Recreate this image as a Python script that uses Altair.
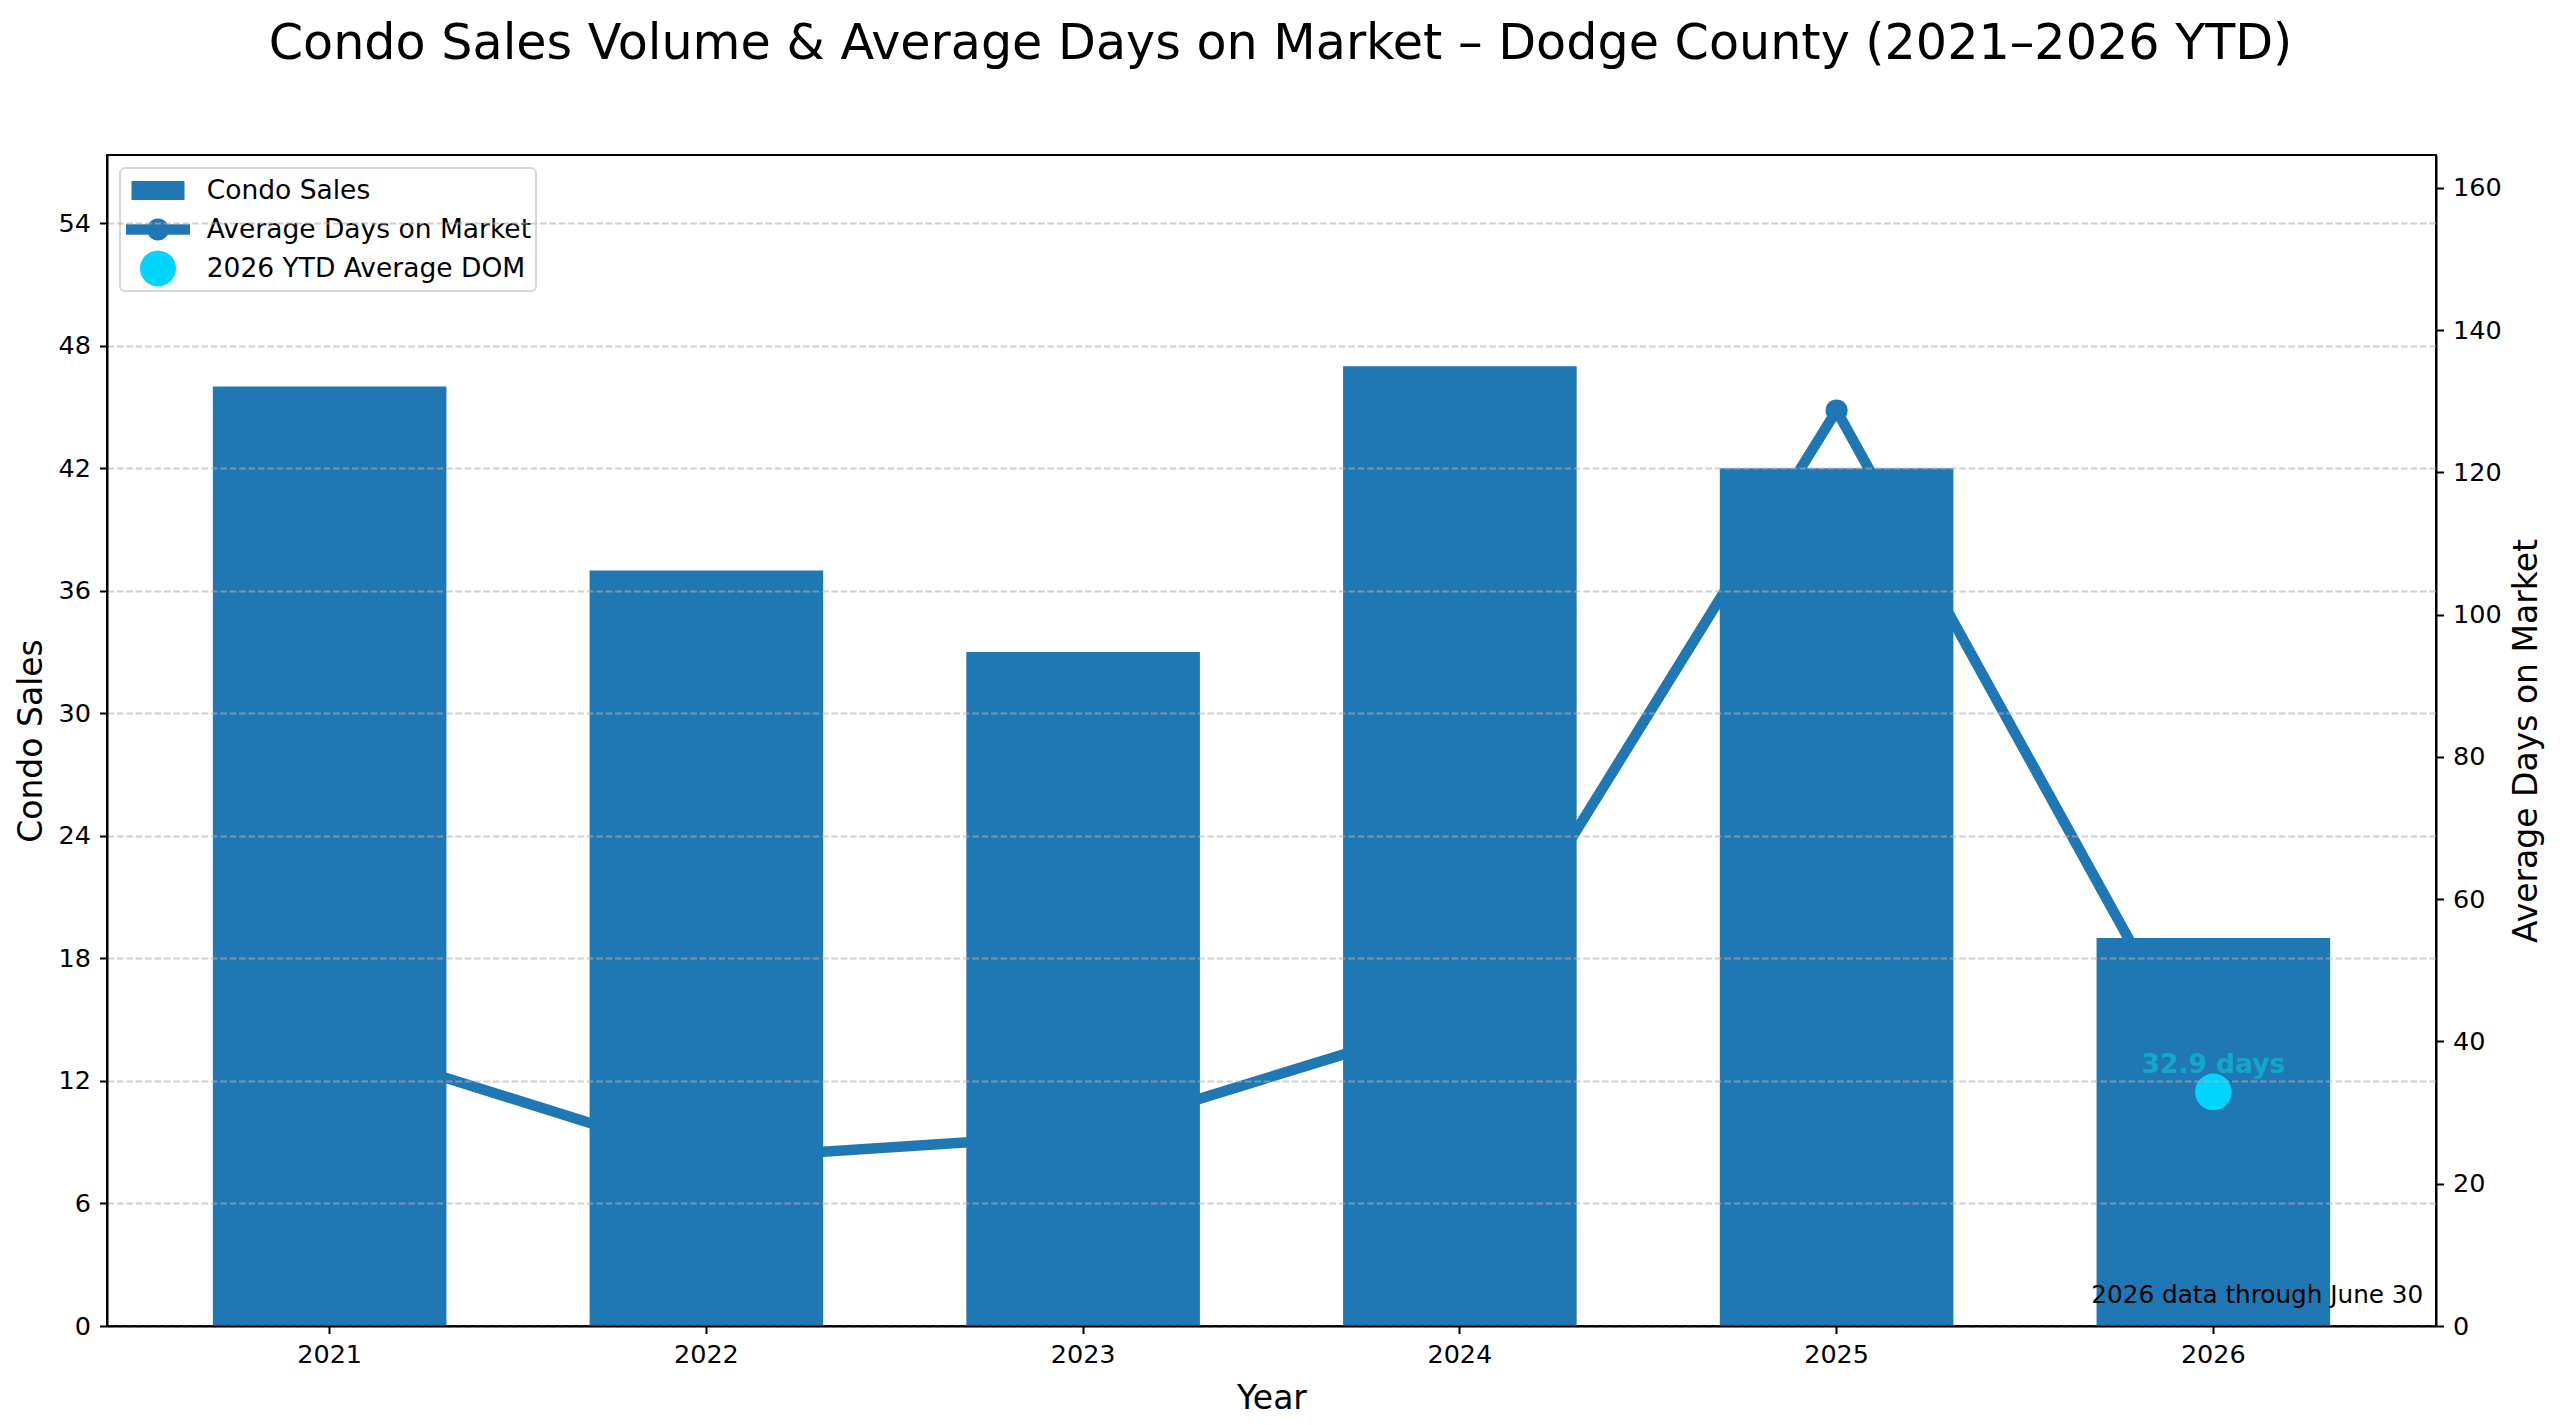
import altair as alt
import pandas as pd

# ---------------- data ----------------
years = ["2021", "2022", "2023", "2024", "2025", "2026"]
condo_sales = [46, 37, 33, 47, 42, 19]
avg_dom = [40.0, 23.4, 26.9, 43.2, 128.7, 32.9]

ytd_year = ["2026"]
ytd_dom = [32.9]
ytd_label = ["32.9 days"]

legend_labels = ["Condo Sales", "Average Days on Market", "2026 YTD Average DOM"]
legend_colors = ["#1f77b4", "#1f77b4", "#00d4ff"]

sales_ticks = [0, 6, 12, 18, 24, 30, 36, 42, 48, 54]
dom_ticks = [0, 20, 40, 60, 80, 100, 120, 140, 160]
sales_axis_max = 57.34
dom_axis_max = 164.6

note_text = ["2026 data through June 30"]
title_text = "Condo Sales Volume & Average Days on Market \u2013 Dodge County (2021\u20132026 YTD)"

# ---------------- styling ----------------
FONT = "DejaVu Sans"
W, H = 2329, 1171
BLUE = "#1f77b4"
CYAN = "#00d4ff"

# legend glyphs (unit box scaled by sqrt(symbolSize)/2)
rect_path = "M-1.359,-0.487L1.359,-0.487L1.359,0.487L-1.359,0.487Z"
line_path = ("M-1.641,-0.269L1.641,-0.269L1.641,0.269L-1.641,0.269Z "
             "M0.564,0A0.564,0.564 0 1 1 -0.564,0A0.564,0.564 0 1 1 0.564,0Z")
circle_path = "M0.923,0A0.923,0.923 0 1 1 -0.923,0A0.923,0.923 0 1 1 0.923,0Z"
legend_shapes = [rect_path, line_path, circle_path]

df = pd.DataFrame({"Year": years, "Sales": condo_sales, "DOM": avg_dom})
ytd_df = pd.DataFrame({"Year": ytd_year, "DOM": ytd_dom, "label": ytd_label})
legend_df = pd.DataFrame({"series": legend_labels})
note_df = pd.DataFrame({"note": note_text})

x_enc = alt.X(
    "Year:O",
    scale=alt.Scale(domain=years, paddingInner=0.38, paddingOuter=0.281),
    axis=alt.Axis(title="Year", labelAngle=0, labelPadding=8.5, titlePadding=15.3,
                  zindex=2),
)

dom_scale = alt.Scale(domain=[0, dom_axis_max], nice=False, zero=True)

line = alt.Chart(df).mark_line(
    color=BLUE, strokeWidth=10.5, strokeJoin="round", strokeCap="square",
    point=alt.OverlayMarkDef(filled=True, size=484, color=BLUE, opacity=1),
).encode(
    x=x_enc,
    y=alt.Y("DOM:Q", scale=dom_scale,
            axis=alt.Axis(orient="right", values=dom_ticks, grid=False,
                          title="Average Days on Market", titleAngle=270,
                          titleBaseline="top", titlePadding=9, labelPadding=9)),
)

bars = alt.Chart(df).mark_bar(color=BLUE).encode(
    x=x_enc,
    y=alt.Y("Sales:Q", scale=alt.Scale(domain=[0, sales_axis_max], nice=False, zero=True),
            axis=alt.Axis(orient="left", values=sales_ticks, grid=True, zindex=1,
                          gridDash=[6.6, 2.8], gridColor="#b0b0b0", gridOpacity=0.6,
                          gridWidth=2, title="Condo Sales", titlePadding=9.5,
                          labelPadding=9)),
)

ytd_point = alt.Chart(ytd_df).mark_point(
    filled=True, shape="circle", color=CYAN, size=1347, opacity=1, strokeWidth=0,
).encode(
    x=x_enc,
    y=alt.Y("DOM:Q", scale=dom_scale, axis=None),
)

ytd_text = alt.Chart(ytd_df).mark_text(
    font=FONT, fontSize=26.5, fontWeight="bold", color="#12a9c9",
    baseline="alphabetic", align="center", dy=-19.4,
).encode(
    x=x_enc,
    y=alt.Y("DOM:Q", scale=dom_scale, axis=None),
    text="label:N",
)

note = alt.Chart(note_df).mark_text(
    font=FONT, fontSize=24.7, color="black", align="right", baseline="alphabetic",
).encode(
    x=alt.value(W - 12.7),
    y=alt.value(H - 23.4),
    text="note:N",
)

legend_props = dict(
    title=None, orient="top-left", offset=13, padding=4,
    symbolSize=1521, symbolStrokeWidth=0, symbolOffset=14.5,
    labelOffset=29.2, labelFont=FONT, labelFontSize=26.5, labelColor="black",
    labelLimit=0, rowPadding=2, clipHeight=37,
    strokeColor="#d6d6d6", fillColor="rgba(255,255,255,0.8)", cornerRadius=5,
)

legend_layer = alt.Chart(legend_df).mark_point(
    filled=True, opacity=1, strokeWidth=0,
).encode(
    color=alt.Color("series:N", scale=alt.Scale(domain=legend_labels, range=legend_colors),
                    legend=alt.Legend(**legend_props)),
    shape=alt.Shape("series:N", scale=alt.Scale(domain=legend_labels, range=legend_shapes),
                    legend=alt.Legend(**legend_props)),
).transform_filter("false")

chart = alt.layer(
    line, bars, ytd_point, ytd_text, note, legend_layer
).resolve_scale(
    y="independent"
).properties(
    width=W, height=H,
    autosize=alt.AutoSizeParams(type="none"),
    padding={"left": 99, "top": 147, "right": 116, "bottom": 91},
    title=alt.TitleParams(
        title_text, font=FONT, fontSize=49.2, fontWeight="normal", color="black",
        anchor="middle", baseline="alphabetic", offset=47, dx=9,
    ),
).configure_view(
    stroke="black", strokeWidth=2,
).configure_axis(
    labelFont=FONT, labelFontSize=25.5, labelColor="black",
    titleFont=FONT, titleFontSize=33, titleFontWeight="normal", titleColor="black",
    tickColor="black", tickSize=7.5, tickWidth=2,
    domainColor="black", domainWidth=2,
).configure_legend(
    strokeWidth=2,
)

chart.save("out.html", embed_options={"renderer": "svg", "actions": False})
